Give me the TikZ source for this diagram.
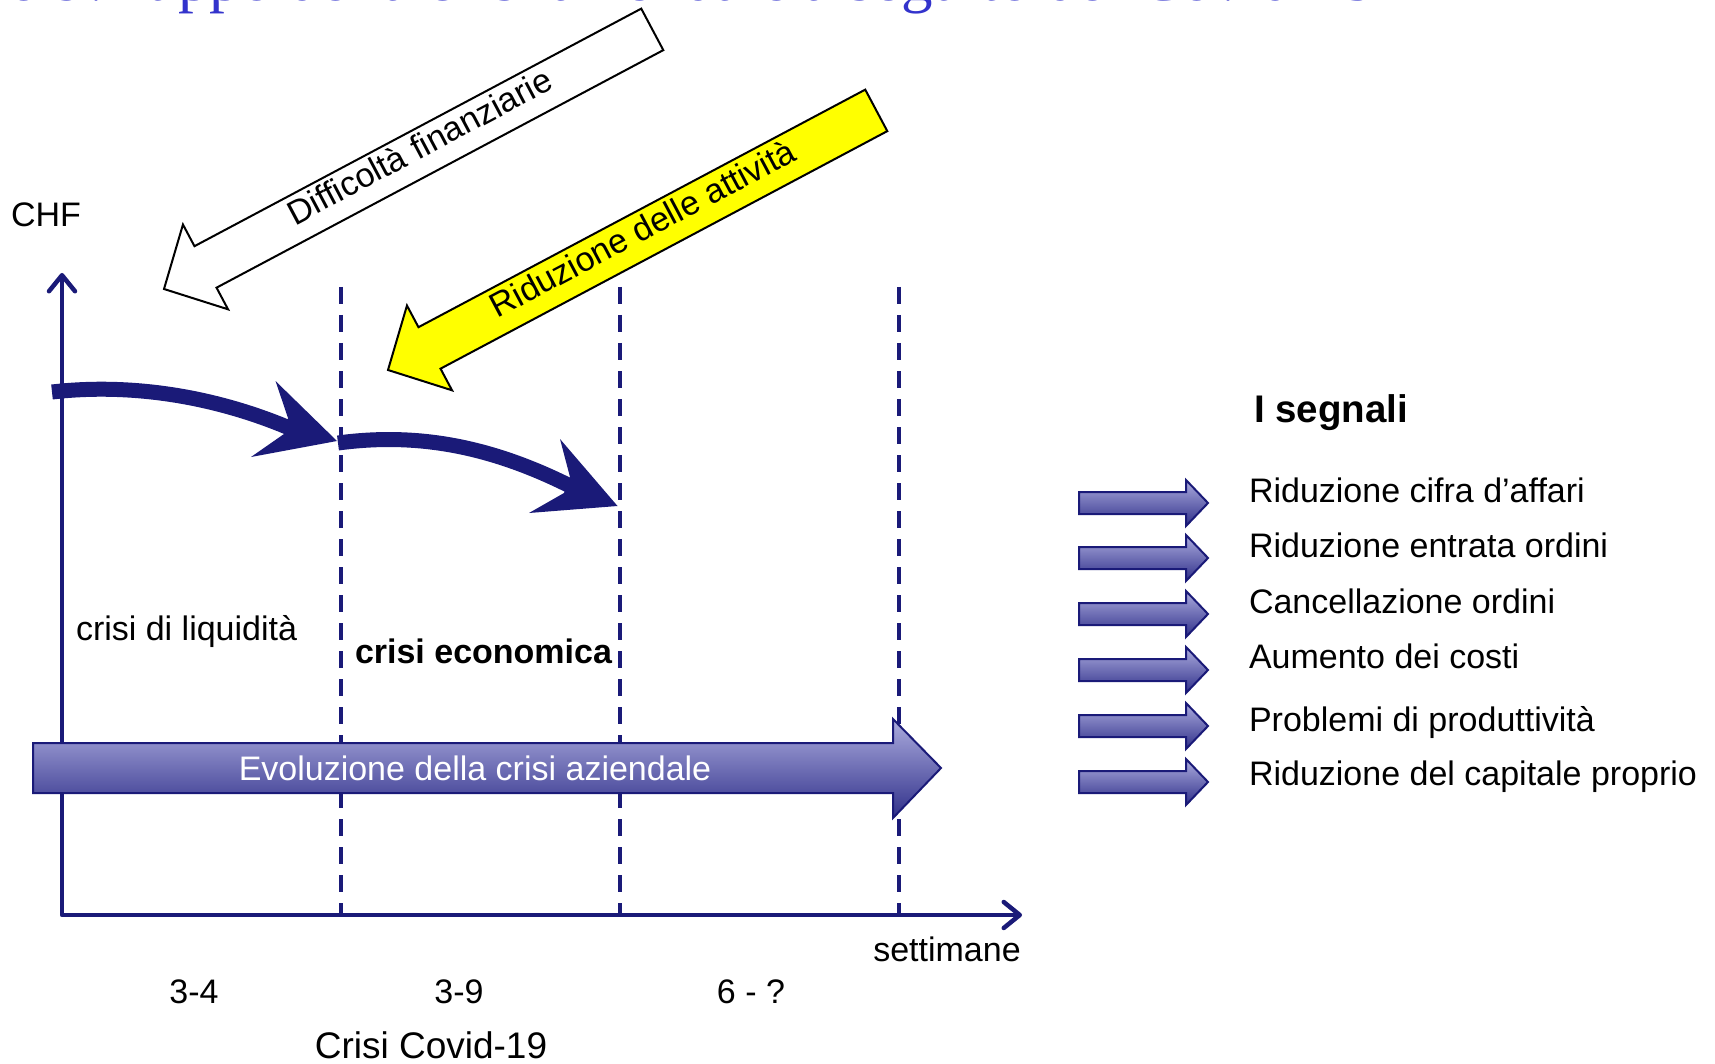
\documentclass[tikz,border=0pt]{standalone}
\usepackage{fontspec}
\setmainfont{Liberation Sans}
\newfontfamily\titlefont{Liberation Serif}
\usetikzlibrary{arrows.meta}
\definecolor{navy}{RGB}{26,26,120}
\definecolor{titleblue}{RGB}{51,51,204}
\definecolor{gradtop}{RGB}{172,172,222}
\definecolor{gradbot}{RGB}{48,48,138}
\definecolor{yellowfill}{RGB}{255,255,0}
\tikzset{
  lbl/.style={font=\fontsize{34}{40}\selectfont, inner sep=0pt, outer sep=0pt},
  lblbold/.style={font=\fontsize{34}{40}\selectfont\bfseries, inner sep=0pt, outer sep=0pt},
  axisline/.style={draw=navy, line width=4.5pt, line cap=round, line join=round},
  dashline/.style={draw=navy, line width=3.5pt, dash pattern=on 17pt off 11pt},
  gradarrow/.style={top color=gradtop, bottom color=gradbot, draw=navy, line width=2pt},
  blockarrow/.style={draw=black, line width=2pt, line join=miter},
  flowline/.style={draw=navy, line width=15pt},
  flowhead/.style={fill=navy}
}
\begin{document}
\begin{tikzpicture}[x=1pt,y=-1pt]
\useasboundingbox (0,0) rectangle (1715,1064);
\fill[white] (0,0) rectangle (1715,1064);
% title (cut off at top)
\begin{scope}
\clip (0,0) rectangle (1715,1064);
\node[font=\titlefont\fontsize{63}{70}\selectfont, text=titleblue, inner sep=0pt, anchor=base west] (title) at (-30,1) {Lo sviluppo della crisi aziendale a seguito del Covid-19};
\end{scope}

% dashed separators
\coordinate (d1t) at (341,287); \coordinate (d1b) at (341,915);
\coordinate (d2t) at (620,287); \coordinate (d2b) at (620,915);
\coordinate (d3t) at (899,287); \coordinate (d3b) at (899,915);
\draw[dashline] (d1t) -- (d1b);
\draw[dashline] (d2t) -- (d2b);
\draw[dashline] (d3t) -- (d3b);

% axes
\coordinate (ytop) at (62,273);
\coordinate (orig) at (62,915);
\coordinate (xend) at (1022,915);
\draw[axisline, {Straight Barb[length=16pt,width=26pt,round]}-{Straight Barb[length=16pt,width=26pt,round]}] (ytop) -- (orig) -- (xend);

% curved flow arrows
\coordinate (c1s) at (52,392);
\coordinate (c1e) at (294,430);
\draw[flowline] (c1s) .. controls (140,382) and (225,400) .. (c1e);
\fill[flowhead] (337,441) -- (275.5,381) -- (288,418) -- (284,434) -- (251,457) -- cycle;
\coordinate (c2s) at (338,443);
\coordinate (c2e) at (578,490);
\draw[flowline] (c2s) .. controls (420,432) and (495,447) .. (c2e);
\fill[flowhead] (617.5,506) -- (560,439) -- (570,477) -- (564,493) -- (529,513) -- cycle;

% diagonal block arrows
\begin{scope}[shift={(164,289)}, rotate=28]
\draw[blockarrow, fill=white] (0,0) -- (47,48) -- (47,23.5) -- (553,23.5) -- (553,-23.5) -- (47,-23.5) -- (47,-48) -- cycle;
\end{scope}
\node[lbl, anchor=base, rotate=28] (diff) at (425,157) {Difficoltà finanziarie};
\begin{scope}[shift={(388,370)}, rotate=28]
\draw[blockarrow, fill=yellowfill] (0,0) -- (47,48) -- (47,23.5) -- (553,23.5) -- (553,-23.5) -- (47,-23.5) -- (47,-48) -- cycle;
\end{scope}
\node[lbl, anchor=base, rotate=28] (rid) at (648,239) {Riduzione delle attività};

% big evolution arrow
\shade[gradarrow] (33,743) -- (893,743) -- (893,719) -- (941,768) -- (893,818) -- (893,793) -- (33,793) -- cycle;
\node[lbl, anchor=base, text=white] (evo) at (475,780) {Evoluzione della crisi aziendale};

% labels
\node[lbl, anchor=base west] (chf) at (11,227) {CHF};
\node[lbl, anchor=base west] (liq) at (76,640) {crisi di liquidità};
\node[lblbold, anchor=base west] (eco) at (355,663) {crisi economica};
\node[lbl, anchor=base] (w1) at (194,1003) {3-4};
\node[lbl, anchor=base] (w2) at (459,1003) {3-9};
\node[lbl, anchor=base] (w3) at (751,1003) {6 - ?};
\node[lbl, anchor=base] (sett) at (947,961) {settimane};
\node[lbl, font=\fontsize{37}{43}\selectfont, anchor=base] (covid) at (431,1058) {Crisi Covid-19};

% signals
\node[lblbold, font=\fontsize{38.5}{44}\selectfont\bfseries, anchor=base west] (segn) at (1254,422) {I segnali};
\foreach \c/\b/\t [count=\i] in {503/502/{Riduzione cifra d’affari}, 558/557/{Riduzione entrata ordini}, 614/613/{Cancellazione ordini}, 670/668/{Aumento dei costi}, 726/731/{Problemi di produttività}, 782/785/{Riduzione del capitale proprio}}{
  \shade[gradarrow] (1079,\c-11) -- (1186,\c-11) -- (1186,\c-23) -- (1208,\c) -- (1186,\c+23) -- (1186,\c+11) -- (1079,\c+11) -- cycle;
  \node[lbl, anchor=base west] (s\i) at (1249,\b) {\t};
}
\end{tikzpicture}
\end{document}
